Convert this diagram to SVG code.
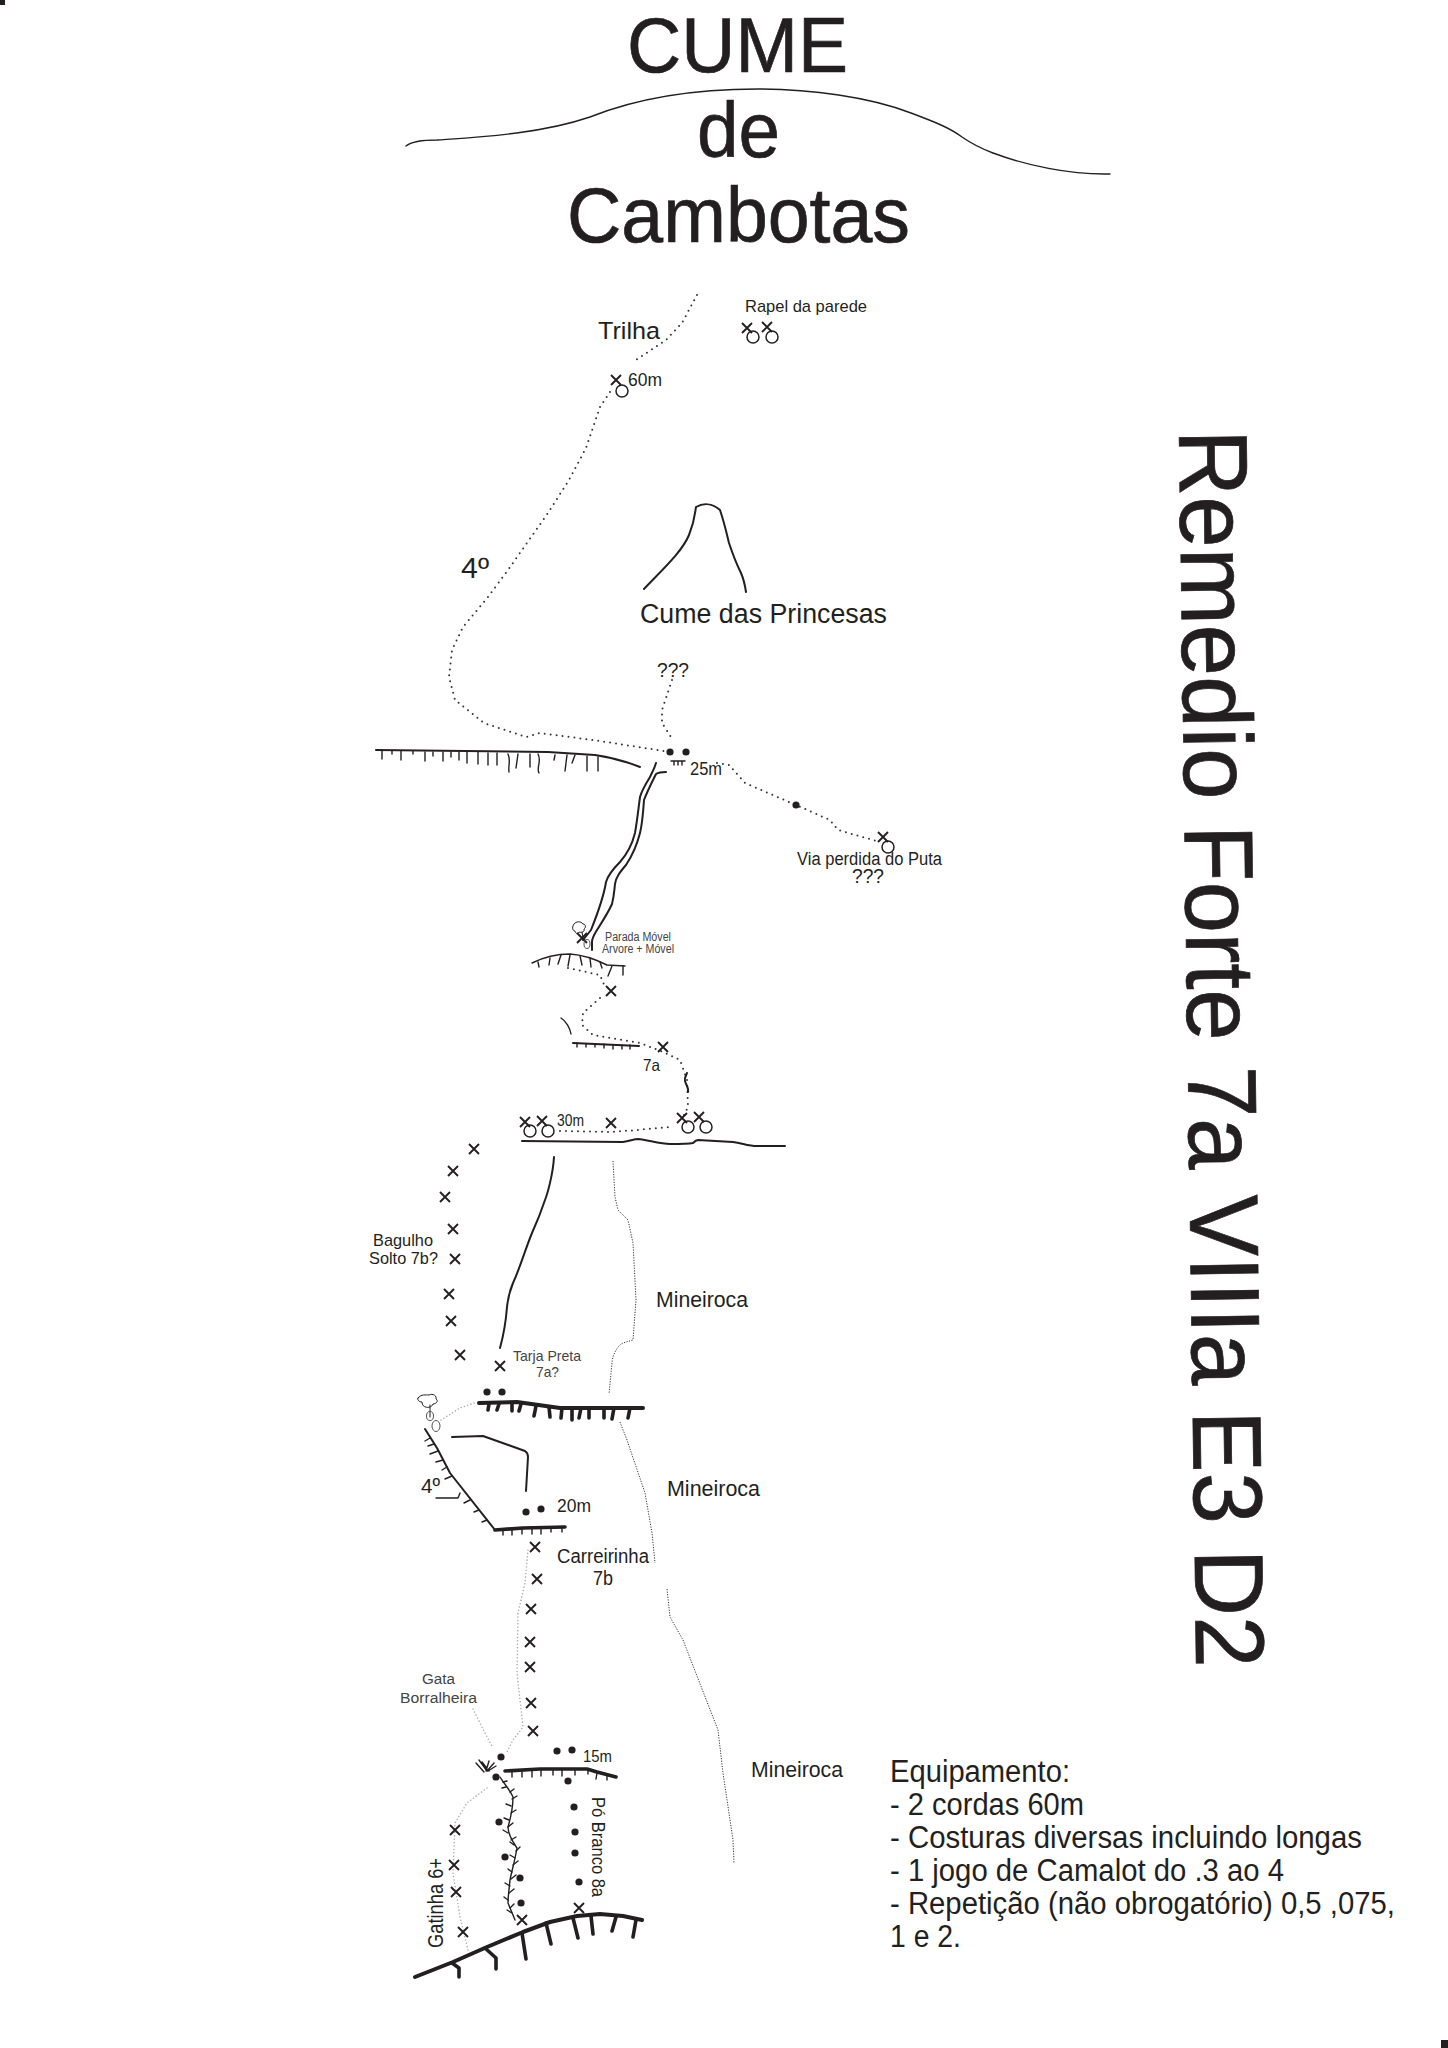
<svg xmlns="http://www.w3.org/2000/svg" width="1448" height="2048" viewBox="0 0 1448 2048">
<style>
text{font-family:"Liberation Sans",Arial,sans-serif;fill:#231f20}
.big{stroke:#231f20;stroke-width:.7}
.l{fill:none;stroke:#231f20;stroke-linecap:round;stroke-linejoin:round}
.s1{stroke-width:1.4}.s2{stroke-width:2}.s3{stroke-width:3.6}.s4{stroke-width:4}
.d{fill:none;stroke:#333;stroke-width:2;stroke-linecap:round;stroke-linejoin:round;stroke-dasharray:0 6}
.f{fill:none;stroke:#333;stroke-width:1;stroke-dasharray:1.2 1.4}
.g{fill:none;stroke:#aaa;stroke-width:1.6;stroke-linecap:round;stroke-dasharray:0 3.4}
.x{fill:none;stroke:#231f20;stroke-width:1.9}
.o{fill:#fff;fill-opacity:0;stroke:#231f20;stroke-width:1.5}
.p{fill:#231f20}
.small{fill:#444}
</style>
<defs>
<path id="x" class="x" d="M-5-5L5 5M5-5L-5 5"/>
<circle id="o" class="o" r="6"/>
<circle id="b" class="p" r="3.6"/>
</defs>
<rect width="1448" height="2048" fill="#fff"/>
<g id="marks"><rect x="0" y="0" width="5" height="5" class="p"/><rect x="1441" y="2040" width="7" height="8" class="p"/></g>
<g id="titulo">
<text class="big" x="627" y="72" font-size="78" textLength="221" lengthAdjust="spacingAndGlyphs">CUME</text>
<text class="big" x="697" y="157" font-size="78" textLength="83" lengthAdjust="spacingAndGlyphs">de</text>
<text class="big" x="567" y="242" font-size="78" textLength="343" lengthAdjust="spacingAndGlyphs">Cambotas</text>
<text class="big" transform="translate(1179 430) rotate(89.2)" font-size="98" textLength="1238" lengthAdjust="spacingAndGlyphs">Remedio Forte 7a VIIIa E3 D2</text>
</g>
<g id="connectors">
<path class="l s1" d="M406 146C412 141 425 140 437 140C480 137 540 134 590 117C625 103 680 89 758 89C810 89 870 97 911 113C935 122 950 128 962 137C975 146 985 150 993 153C1025 165 1070 175 1110 174"/>
<path class="d" d="M697 295L682 323L666 340L633 362"/>
<path class="d" d="M610 392L600 407L586 448L569 480L548 513L508 570L488 597L463 627L452 650L449 677L455 700L484 723L526 737L540 733L600 741L670 752"/>
<path class="l s2" d="M644 589C662 570 682 552 689 535C695 520 695 512 696 507C703 503 712 503 720 510C725 525 727 535 729 543C733 555 737 565 741 573C744 580 745 585 746 592"/>
<path class="d" d="M672 680L662 710L662 723L671 737"/>
<path class="l s2" d="M376 750L548 752L595 755C615 758 630 763 640 767"/>
<path class="l s1" d="M382 751v8M392 751v3M401 751v9M413 751v3M425 752v9M433 752v4M443 752v9M451 752v5M459 752v8M467 752v11M478 752v12M488 753v12M497 753v12M508 754c3 6 0 12 1 18M518 754l-2 14M530 754v13M538 754c4 7-2 14 1 19M555 755l-1 5M567 755l-2 16M575 755l-3 8M587 756v15M598 757v14"/>
<path class="l s1" d="M671 761h14M674 761v4M678 761v4M682 761v4"/>
<path class="d" d="M717 763L729 765L745 783L796 805L830 820L838 830L880 842"/>
<path class="l s2" d="M656 763C654 770 652 772 650 777C645 785 642 790 640 797C638 812 637 822 635 833C632 845 628 853 620 862C612 870 608 875 606 882C604 895 597 915 591 930L583 940"/>
<path class="l s2" d="M666 772C662 772 659 772 656 774C651 784 647 792 644 800C643 815 642 825 640 833C637 845 632 856 626 865C620 872 616 877 615 884C614 893 614 896 612 904C608 913 602 922 597 930C594 935 592 938 592 942V950"/>
<path class="l s1" d="M532 963C542 958 556 954 570 954C585 955 597 960 607 965L625 966"/>
<path class="l s1" d="M538 962l1 5M550 958l-1 7M561 955l-3 9M570 955l-2 11M580 956l2 9M590 958l1 9M600 962l2 6M612 966l-4 10M623 966v9"/>
<path class="d" d="M568 968L600 975L605 987M600 998L583 1013L582 1025L593 1035L640 1043L663 1052L680 1060L687 1080L688 1107L683 1117"/>
<path class="l s1" d="M561 1018C566 1021 570 1028 571 1034"/>
<path class="l s2" d="M573 1043L639 1046"/>
<path class="l s1" d="M577 1043v4M586 1044v3M595 1044v3M604 1044v4M613 1045v4M622 1045v4M630 1045v4"/>
<path class="l s2" d="M687 1073C686 1076 684 1078 685 1081C686 1085 689 1088 688 1092"/>
<path class="d" d="M560 1131L611 1132L637 1130L670 1127"/>
<path class="l s2" d="M522 1141L623 1142C630 1141 634 1139 638 1139C648 1140 660 1144 670 1144C680 1144 688 1144 693 1143C695 1141 696 1140 698 1140L733 1142C742 1143 748 1146 757 1146L785 1146"/>
<path class="l s2" d="M554 1157C553 1175 547 1195 545 1200C540 1215 537 1222 532 1233C525 1250 520 1268 513 1283C508 1295 508 1300 507 1307C506 1320 505 1330 500 1348"/>
<path class="f" d="M613 1161L615 1197L618 1210L628 1220L633 1243L636 1300L633 1340C626 1342 622 1343 620 1345C615 1350 612 1358 612 1363L609 1394"/>
<path class="l s4" d="M479 1403L517 1402L560 1408L643 1408"/>
<path class="l s3" d="M489 1404l-1 6M499 1404l-2 6M512 1404v7M521 1404l-2 7M536 1406l-2 10M549 1407l1 10M562 1408l-1 10M572 1408v12M581 1408l-2 10M589 1408v10M604 1408v10M614 1408l-2 11M630 1408l-2 10"/>
<path class="g" d="M441 1420L460 1408L477 1402"/>
<path class="f" d="M620 1422L627 1440L645 1493L652 1533L655 1563M667 1589L670 1617L683 1640L718 1730L723 1773L733 1840L734 1863"/>
<path class="l s2" d="M452 1437L483 1436L525 1451C528 1453 528 1455 528 1457L526 1491"/>
<path class="l s2" d="M425 1429L437 1448L450 1473L495 1530"/>
<path class="l s3" d="M495 1530L523 1528L565 1527"/>
<path class="l s1" d="M430 1438l-5 3M434 1444l-6 2M438 1451l-8 3M443 1460l-7 2M447 1467l-5 3M452 1476l-7 3M470 1500l-6 3M479 1510l-5 2M487 1520l-5 2M436 1498H458L460 1493M503 1530v5M512 1529v6M522 1529v5M532 1528v6M541 1528v6M551 1527v5M562 1527v5"/>
<path class="g" d="M528 1550L525 1583L518 1613L517 1673L523 1727L513 1740L507 1752"/>
<path class="g" d="M473 1709L485 1733L493 1748"/>
<path class="l s1" d="M476 1763L484 1772M479 1760L487 1771M482 1762L489 1771M489 1761L486 1771M494 1763L487 1771M496 1766L488 1771"/>
<path class="l s3" d="M505 1771L540 1769H587L597 1772L616 1777"/>
<path class="l s1" d="M512 1771v6M522 1771v6M532 1771v6M541 1770v6M553 1770v5M562 1770v6M575 1770v5M588 1770v4M597 1773l-1 6M607 1775v5"/>
<path class="l s1" d="M500 1777C505 1785 510 1790 513 1797C513 1810 510 1820 508 1827C508 1835 513 1842 517 1848C515 1860 512 1870 510 1880C509 1890 508 1897 508 1903L515 1920"/>
<path class="l s1" d="M503 1782l4-1M506 1787l-4 1M510 1792l4-3M512 1799l5-3M511 1806l-5-2M511 1813l5-3M509 1820l-5-2M508 1827l5-4M508 1833l-5-3M511 1840l5-3M514 1845l-4-3M516 1851l4-4M515 1858l-5-3M513 1865l5-4M512 1872l-4-3M511 1879l5-4M510 1886l-5-3M509 1893l5-4M508 1900l-4-3M510 1908l4-4M512 1913l-5-3"/>
<path class="g" d="M487 1788L467 1803L455 1823L453 1873L460 1917L468 1950"/>
<path class="l s4" d="M415 1977L453 1962L487 1947L523 1932L550 1922L577 1916L600 1914L623 1916L642 1920"/>
<path class="l s3" d="M452 1963L459 1968V1977M485 1948L496 1958V1969M522 1933L526 1959M546 1923L551 1944M573 1918L578 1938M591 1916L593 1934M616 1917L612 1931M636 1920L633 1937"/>
</g>
<g id="arvores">
<path class="l" stroke-width="1" d="M574 924c2-3 7-3 9 0c3 0 3 4 1 5c1 3-3 4-5 3c-1 3-4 1-4-1c-3 0-3-5-1-7zM582 932l1 6"/>
<path class="l" stroke-width="1" d="M418 1398c3-4 8-3 11-3c4-2 8 1 7 4c3 2 0 5-3 5c-1 3-5 4-7 3c-2 0-4-2-4-5c-3 0-5-2-4-4zM430 1405l0 12"/>
<ellipse cx="430" cy="1416" rx="3.5" ry="4.5" fill="none" stroke="#555"/>
<ellipse cx="436" cy="1426" rx="4" ry="5.5" fill="none" stroke="#555"/>
</g>
<g id="protecoes">
<use href="#x" x="747" y="328"/><use href="#o" x="753" y="337"/>
<use href="#x" x="767" y="327"/><use href="#o" x="772" y="337"/>
<use href="#x" x="616" y="380"/><use href="#o" x="622" y="391"/>
<use href="#x" x="883" y="837"/><use href="#o" x="888" y="847"/>
<use href="#x" x="582" y="938"/><ellipse cx="587" cy="944" rx="3" ry="4.5" fill="none" stroke="#555"/>
<use href="#x" x="611" y="991"/><use href="#x" x="663" y="1047"/>
<use href="#x" x="525" y="1122"/><use href="#o" x="530" y="1131"/>
<use href="#x" x="542" y="1121"/><use href="#o" x="548" y="1131"/>
<use href="#x" x="611" y="1123"/>
<use href="#x" x="682" y="1118"/><use href="#o" x="688" y="1127"/>
<use href="#x" x="699" y="1117"/><use href="#o" x="706" y="1127"/>
<use href="#x" x="474" y="1149"/><use href="#x" x="453" y="1171"/><use href="#x" x="445" y="1197"/><use href="#x" x="453" y="1229"/><use href="#x" x="455" y="1259"/><use href="#x" x="449" y="1294"/><use href="#x" x="451" y="1321"/><use href="#x" x="460" y="1355"/><use href="#x" x="500" y="1366"/>
<use href="#x" x="535" y="1547"/><use href="#x" x="537" y="1579"/><use href="#x" x="531" y="1609"/><use href="#x" x="530" y="1642"/><use href="#x" x="530" y="1667"/><use href="#x" x="531" y="1703"/><use href="#x" x="533" y="1731"/>
<use href="#x" x="579" y="1908"/><use href="#x" x="522" y="1920"/>
<use href="#x" x="455" y="1830"/><use href="#x" x="454" y="1865"/><use href="#x" x="456" y="1892"/><use href="#x" x="463" y="1932"/>
<use href="#b" x="670" y="752"/><use href="#b" x="686" y="752"/><use href="#b" x="796" y="805"/>
<use href="#b" x="487" y="1392"/><use href="#b" x="502" y="1392"/><use href="#b" x="526" y="1512"/><use href="#b" x="541" y="1509"/>
<use href="#b" x="557" y="1751"/><use href="#b" x="572" y="1750"/><use href="#b" x="501" y="1757"/><use href="#b" x="496" y="1777"/>
<use href="#b" x="568" y="1781"/><use href="#b" x="574" y="1807"/><use href="#b" x="575" y="1832"/><use href="#b" x="575" y="1853"/><use href="#b" x="579" y="1882"/>
<use href="#b" x="499" y="1822"/><use href="#b" x="505" y="1857"/><use href="#b" x="520" y="1878"/><use href="#b" x="521" y="1903"/>
</g>
<g id="rotulos">
<text x="598" y="339" font-size="24.5" textLength="62" lengthAdjust="spacingAndGlyphs">Trilha</text>
<text x="745" y="312" font-size="17" textLength="122" lengthAdjust="spacingAndGlyphs">Rapel da parede</text>
<text x="628" y="386" font-size="18" textLength="34" lengthAdjust="spacingAndGlyphs">60m</text>
<text x="461" y="578" font-size="29" textLength="28" lengthAdjust="spacingAndGlyphs">4º</text>
<text x="640" y="623" font-size="27" textLength="247" lengthAdjust="spacingAndGlyphs">Cume das Princesas</text>
<text x="657" y="677" font-size="20" textLength="32" lengthAdjust="spacingAndGlyphs">???</text>
<text x="690" y="775" font-size="18" textLength="32" lengthAdjust="spacingAndGlyphs">25m</text>
<text x="797" y="865" font-size="18" textLength="145" lengthAdjust="spacingAndGlyphs">Via perdida do Puta</text>
<text x="852" y="883" font-size="20" textLength="32" lengthAdjust="spacingAndGlyphs">???</text>
<text class="small" x="605" y="941" font-size="12" textLength="66" lengthAdjust="spacingAndGlyphs">Parada Móvel</text>
<text class="small" x="602" y="953" font-size="12" textLength="72" lengthAdjust="spacingAndGlyphs">Arvore + Móvel</text>
<text x="643" y="1071" font-size="16.5" textLength="17" lengthAdjust="spacingAndGlyphs">7a</text>
<text x="557" y="1126" font-size="16" textLength="27" lengthAdjust="spacingAndGlyphs">30m</text>
<text x="373" y="1246" font-size="17" textLength="60" lengthAdjust="spacingAndGlyphs">Bagulho</text>
<text x="369" y="1264" font-size="17" textLength="69" lengthAdjust="spacingAndGlyphs">Solto 7b?</text>
<text x="656" y="1307" font-size="22" textLength="92" lengthAdjust="spacingAndGlyphs">Mineiroca</text>
<text class="small" x="513" y="1361" font-size="15" textLength="68" lengthAdjust="spacingAndGlyphs">Tarja Preta</text>
<text class="small" x="536" y="1377" font-size="15" textLength="23" lengthAdjust="spacingAndGlyphs">7a?</text>
<text x="421" y="1493" font-size="20" textLength="19" lengthAdjust="spacingAndGlyphs">4º</text>
<text x="667" y="1496" font-size="22" textLength="93" lengthAdjust="spacingAndGlyphs">Mineiroca</text>
<text x="557" y="1512" font-size="19" textLength="34" lengthAdjust="spacingAndGlyphs">20m</text>
<text x="557" y="1563" font-size="20" textLength="92" lengthAdjust="spacingAndGlyphs">Carreirinha</text>
<text x="593" y="1585" font-size="20" textLength="20" lengthAdjust="spacingAndGlyphs">7b</text>
<text class="small" x="422" y="1684" font-size="15.5" textLength="33" lengthAdjust="spacingAndGlyphs">Gata</text>
<text class="small" x="400" y="1703" font-size="15.5" textLength="77" lengthAdjust="spacingAndGlyphs">Borralheira</text>
<text x="583" y="1762" font-size="16.5" textLength="29" lengthAdjust="spacingAndGlyphs">15m</text>
<text x="751" y="1777" font-size="22" textLength="92" lengthAdjust="spacingAndGlyphs">Mineiroca</text>
<text transform="translate(592 1797) rotate(90)" font-size="18" textLength="100" lengthAdjust="spacingAndGlyphs">Pó Branco 8a</text>
<text transform="translate(443 1948) rotate(-90)" font-size="22" textLength="90" lengthAdjust="spacingAndGlyphs">Gatinha 6+</text>
</g>
<g id="equipamento" font-size="31">
<text x="890" y="1782" textLength="180" lengthAdjust="spacingAndGlyphs">Equipamento:</text>
<text x="890" y="1815" textLength="194" lengthAdjust="spacingAndGlyphs">- 2 cordas 60m</text>
<text x="890" y="1848" textLength="472" lengthAdjust="spacingAndGlyphs">- Costuras diversas incluindo longas</text>
<text x="890" y="1881" textLength="394" lengthAdjust="spacingAndGlyphs">- 1 jogo de Camalot do .3 ao 4</text>
<text x="890" y="1914" textLength="505" lengthAdjust="spacingAndGlyphs">- Repetição (não obrogatório) 0,5 ,075,</text>
<text x="890" y="1947" textLength="71" lengthAdjust="spacingAndGlyphs">1 e 2.</text>
</g>
</svg>
